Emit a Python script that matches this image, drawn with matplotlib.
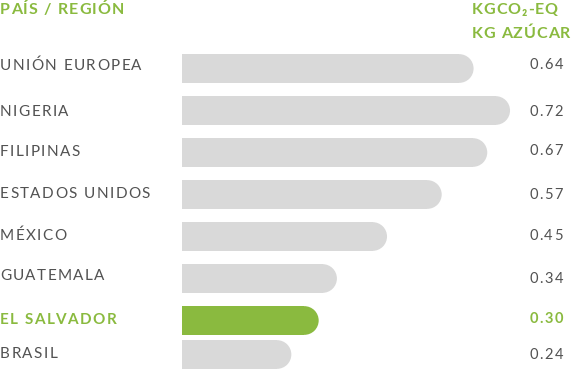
import matplotlib
matplotlib.use("Agg")
import matplotlib.pyplot as plt
from matplotlib.patches import Ellipse
from matplotlib.font_manager import FontProperties
import matplotlib.transforms as mtransforms

plt.rcParams['font.family'] = ['Lato', 'DejaVu Sans']

# ---- data ----
countries = ["UNIÓN EUROPEA", "NIGERIA", "FILIPINAS", "ESTADOS UNIDOS",
             "MÉXICO", "GUATEMALA", "EL SALVADOR", "BRASIL"]
values = [0.64, 0.72, 0.67, 0.57, 0.45, 0.34, 0.30, 0.24]
value_labels = ["0.64", "0.72", "0.67", "0.57", "0.45", "0.34", "0.30", "0.24"]
highlight = "EL SALVADOR"

header_left = "PAÍS / REGIÓN"
header_right = ["KGCO₂-EQ", "KG AZÚCAR"]

# ---- layout (pixel rows, top-down) ----
bar_rows = [68.5, 110.5, 152.5, 194.5, 236.5, 278.5, 320.5, 354.5]
name_rows = [65.5, 111.5, 151.5, 194.5, 235.5, 276.5, 319.5, 353.5]
val_rows = [65, 112, 151, 195, 236, 279, 319, 355]
bar_h = 28.7

GREEN = "#8aba3f"
GRAY_BAR = "#d9d9d9"
TEXT = "#525252"

W, H = 585, 369
fig = plt.figure(figsize=(W / 100, H / 100), dpi=100)
ax = fig.add_axes([0, 0, 1, 1])
px_per_unit = 455.6
x0_px = 182
ax.set_xlim(-x0_px / px_per_unit, (W - x0_px) / px_per_unit)
ax.set_ylim(H, 0)
ax.axis("off")

r_data = (bar_h / 2) / px_per_unit
for name, v, yb in zip(countries, values, bar_rows):
    c = GREEN if name == highlight else GRAY_BAR
    ax.barh(yb, v - r_data, left=0, height=bar_h, color=c, linewidth=0)
    ax.add_patch(Ellipse((v - r_data, yb), 2 * r_data, bar_h, color=c, linewidth=0))

renderer = fig.canvas.get_renderer()
trans = mtransforms.blended_transform_factory(ax.transAxes, ax.transData)


def spaced_text(xfrac, y, s, track, ha="left", size=11, weight="normal", color=TEXT):
    fp = FontProperties(family=['Lato', 'DejaVu Sans'], size=size, weight=weight)
    widths = [renderer.get_text_width_height_descent(ch, fp, ismath=False)[0] for ch in s]
    total = sum(widths) + track * (len(s) - 1)
    off = 0.0 if ha == "left" else -total
    for ch, w in zip(s, widths):
        t = mtransforms.offset_copy(trans, fig=fig, x=off, y=0, units="dots")
        ax.text(xfrac, y, ch, transform=t, ha="left", va="center",
                fontproperties=fp, color=color)
        off += w + track


for name, yt in zip(countries, name_rows):
    hl = name == highlight
    spaced_text(0.0, yt, name, 1.4, size=11, color=GREEN if hl else TEXT,
                weight="bold" if hl else "normal")

for name, lab, yt in zip(countries, value_labels, val_rows):
    hl = name == highlight
    spaced_text(563 / W, yt, lab, 1.6, ha="right", size=10.5,
                color=GREEN if hl else TEXT, weight="bold" if hl else "normal")

spaced_text(0.0, 10, header_left, 1.1, size=11.5, color=GREEN, weight="bold")
spaced_text(472 / W, 10, header_right[0], 0.9, size=11.5, color=GREEN, weight="bold")
spaced_text(472 / W, 34, header_right[1], 0.9, size=11.5, color=GREEN, weight="bold")

fig.savefig("out.png", dpi=100)
